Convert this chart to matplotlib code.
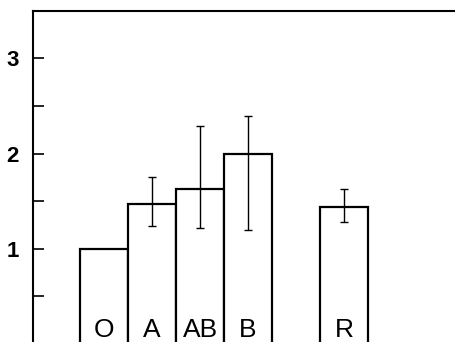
import matplotlib
matplotlib.use('Agg')
import matplotlib.pyplot as plt

# Bar data
groups = ['O', 'A', 'AB', 'B', 'R']
positions = [0, 1, 2, 3, 5]
values = [1.0, 1.47, 1.63, 2.0, 1.44]
err_low = [0.0, 0.23, 0.41, 0.80, 0.16]
err_high = [0.0, 0.28, 0.66, 0.39, 0.19]
major_ticks = [1, 2, 3]
minor_ticks = [0.5, 1.5, 2.5]

plt.rcParams['font.family'] = ['Liberation Sans', 'DejaVu Sans']

fig = plt.figure(figsize=(4.55, 3.42), dpi=100)
ax = fig.add_axes([33 / 455, -2 / 342, 422 / 455, 333.3 / 342])

ax.bar(positions, values, width=1.0, color='white', edgecolor='black', linewidth=1.6, zorder=2)
has_err = [i for i in range(len(values)) if err_low[i] > 0 or err_high[i] > 0]
ax.errorbar([positions[i] for i in has_err], [values[i] for i in has_err],
            yerr=[[err_low[i] for i in has_err], [err_high[i] for i in has_err]],
            fmt='none', ecolor='black', elinewidth=1.0, capsize=3, capthick=1.0, zorder=3)

for x, g in zip(positions, groups):
    ax.text(x, 0.075, g, ha='center', va='baseline', fontsize=19, fontweight='medium',
            family=['Liberation Sans Narrow', 'Liberation Sans', 'DejaVu Sans'], zorder=4)

ax.set_xlim(-1.48, 7.31)
ax.set_ylim(0, 3.5)
ax.set_xticks([])
ax.set_yticks(major_ticks)
ax.set_yticklabels([str(t) for t in major_ticks], fontsize=16, fontweight='bold')
ax.set_yticks(minor_ticks, minor=True)
ax.tick_params(axis='y', which='both', direction='in', length=8, width=1.2, pad=10)
ax.spines['right'].set_visible(False)
ax.spines['bottom'].set_visible(False)
ax.spines['left'].set_linewidth(1.5)
ax.spines['top'].set_linewidth(1.5)

fig.savefig('out.png', dpi=100)
